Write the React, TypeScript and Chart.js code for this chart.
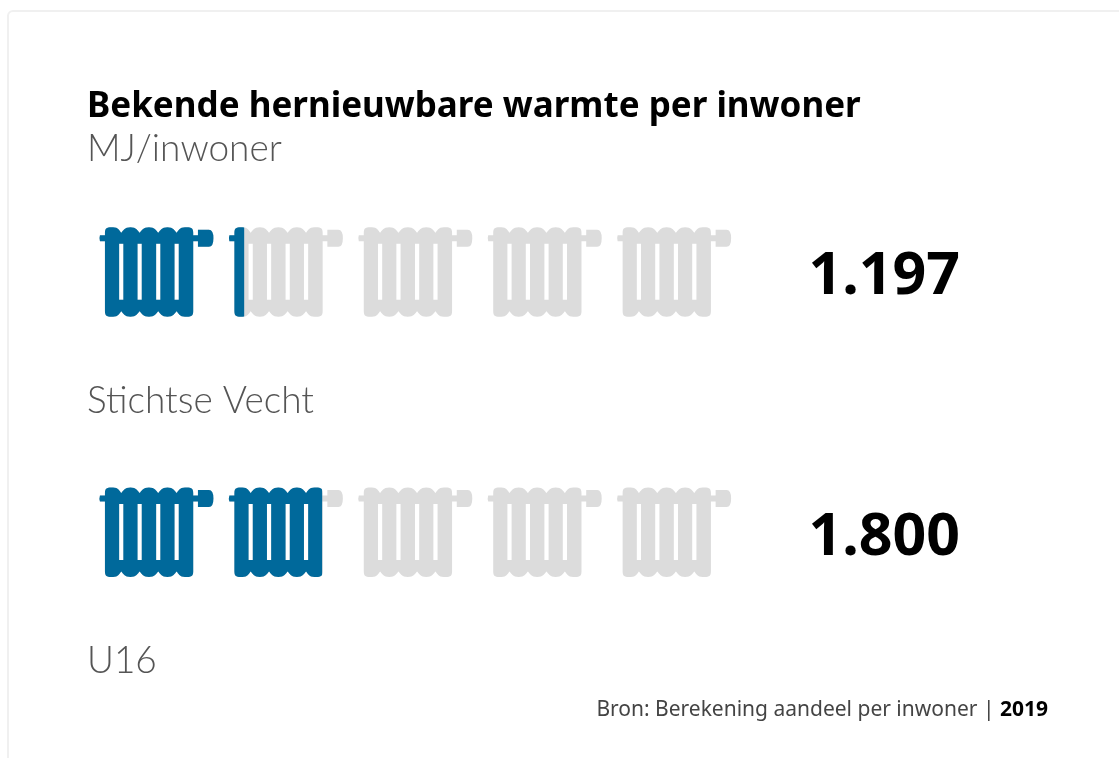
import React, { useEffect, useRef } from "react";
import { Chart, registerables } from "chart.js";

Chart.register(...registerables);

const titleText = "Bekende hernieuwbare warmte per inwoner";
const subtitleText = "MJ/inwoner";
const categories = ["Stichtse Vecht", "U16"];
const valueLabels = ["1.197", "1.800"];
const values = [1197, 1800];
const trackValues = [5000, 5000];
const unitPerIcon = 1000;
const iconCount = 5;
const sourceText = "Bron: Berekening aandeel per inwoner | ";
const sourceYear = "2019";

const LIGHT = "Lato";
const SANS = "'Noto Sans'";
const BLUE = "#00699b";
const GREY = "#dcdcdc";

function waveEdge(ctx: CanvasRenderingContext2D, x0: number, cy: number, cols: number[], notch: number, peak: number) {
  const n = cols.length - 1;
  const lift = (peak - notch) * 0.35;
  for (let k = 0; k < n; k++) {
    const a = cols[k];
    const b = cols[k + 1];
    const m = (a + b) / 2;
    const d = (b - a) / 4;
    const first = k === 0;
    const last = k === n - 1;
    ctx.bezierCurveTo(
      x0 + (first ? a : a + d * 0.4), cy + (first ? peak : notch + lift),
      x0 + m - d * 1.3, cy + peak,
      x0 + m, cy + peak
    );
    ctx.bezierCurveTo(
      x0 + m + d * 1.3, cy + peak,
      x0 + (last ? b : b - d * 0.4), cy + (last ? peak : notch + lift),
      x0 + b, cy + notch
    );
  }
}

function radiatorPath(ctx: CanvasRenderingContext2D, x0: number, cy: number) {
  const X = (v: number) => x0 + v;
  const Y = (v: number) => cy + v;
  const cols = [16, 32.3, 50.7, 69.3, 87.7, 104.3];
  ctx.moveTo(X(16), Y(-39.5));
  waveEdge(ctx, x0, cy, cols, -39.5, -45);
  ctx.lineTo(X(104.3), Y(-37));
  ctx.lineTo(X(109), Y(-37));
  ctx.lineTo(X(109), Y(-42.5));
  ctx.lineTo(X(120), Y(-42.5));
  ctx.quadraticCurveTo(X(124.5), Y(-42.5), X(124.5), Y(-34));
  ctx.quadraticCurveTo(X(124.5), Y(-25.5), X(120), Y(-25.5));
  ctx.lineTo(X(109), Y(-25.5));
  ctx.lineTo(X(109), Y(-31));
  ctx.lineTo(X(104.3), Y(-31));
  ctx.lineTo(X(104.3), Y(39));
  waveEdge(ctx, x0, cy, [...cols].reverse(), 39, 44.5);
  ctx.lineTo(X(16), Y(-31));
  ctx.lineTo(X(11), Y(-31));
  ctx.quadraticCurveTo(X(10), Y(-34), X(11), Y(-37));
  ctx.lineTo(X(16), Y(-37));
  ctx.closePath();
  for (const s of [30.2, 48.6, 67.2, 85.6]) {
    ctx.rect(X(s), Y(-28.3), 4.2, 55.8);
  }
}

const radiatorClip = {
  id: "radiatorClip",
  beforeDatasetsDraw(chart: any) {
    const { ctx, scales } = chart;
    ctx.save();
    ctx.beginPath();
    categories.forEach((_, r) => {
      const cy = scales.y.getPixelForValue(r);
      for (let i = 0; i < iconCount; i++) {
        radiatorPath(ctx, scales.x.getPixelForValue(i * unitPerIcon), cy);
      }
    });
    ctx.clip("evenodd");
  },
  afterDatasetsDraw(chart: any) {
    chart.ctx.restore();
  },
};

const textLabels = {
  id: "textLabels",
  afterDraw(chart: any) {
    const { ctx, scales, chartArea } = chart;
    ctx.save();
    ctx.textBaseline = "middle";
    categories.forEach((c, r) => {
      const cy = scales.y.getPixelForValue(r);
      ctx.textAlign = "left";
      ctx.fillStyle = "#555555";
      ctx.font = `300 37px ${LIGHT}`;
      ctx.fillText(c, chartArea.left, cy + 129);
      ctx.fillStyle = "#000000";
      ctx.font = `700 59px ${SANS}`;
      ctx.fillText(valueLabels[r], scales.x.getPixelForValue(5560), cy + 5.5);
    });
    ctx.textAlign = "right";
    ctx.fillStyle = "#000000";
    ctx.font = `700 21px ${SANS}`;
    const right = 1048;
    ctx.fillText(sourceYear, right, 710);
    const w = ctx.measureText(sourceYear).width;
    ctx.fillStyle = "#444444";
    ctx.font = `400 21px ${SANS}`;
    ctx.fillText(sourceText, right - w, 710);
    ctx.restore();
  },
};

export default function App() {
  const ref = useRef<HTMLCanvasElement | null>(null);
  useEffect(() => {
    document.body.style.margin = "0";
    const chart = new Chart(ref.current as HTMLCanvasElement, {
      type: "bar",
      data: {
        labels: categories,
        datasets: [
          { label: "MJ/inwoner", data: values, backgroundColor: BLUE, barThickness: 100, grouped: false },
          { label: "Schaal", data: trackValues, backgroundColor: GREY, barThickness: 100, grouped: false },
        ],
      },
      options: {
        indexAxis: "y",
        responsive: false,
        animation: false,
        layout: { padding: { left: 87, right: 40, top: 0, bottom: 95.5 } },
        scales: {
          x: { display: false, min: -15, max: 7650 },
          y: { display: false },
        },
        plugins: {
          legend: { display: false },
          tooltip: { enabled: false },
          title: {
            display: true,
            text: titleText,
            align: "start",
            color: "#000000",
            font: { family: "Noto Sans", size: 35, weight: "700", lineHeight: 1 },
            padding: { top: 90, bottom: 5.5 },
          },
          subtitle: {
            display: true,
            text: subtitleText,
            align: "start",
            color: "#555555",
            font: { family: LIGHT, size: 37, weight: "300", lineHeight: 1 },
            padding: { top: 0, bottom: -25.5 },
          },
        },
      },
      plugins: [radiatorClip, textLabels],
    } as any);
    return () => chart.destroy();
  }, []);
  return (
    <div style={{ position: "absolute", left: 0, top: 0, width: 1119, height: 758, overflow: "hidden", background: "#ffffff" }}>
      <div style={{ position: "absolute", left: 7, top: 10, width: 1200, height: 800, border: "2px solid #f0f0f0", borderRadius: 6 }} />
      <canvas ref={ref} width={1119} height={758} style={{ position: "absolute", left: 0, top: 0, width: 1119, height: 758, filter: "blur(0.5px)" }} />
    </div>
  );
}
